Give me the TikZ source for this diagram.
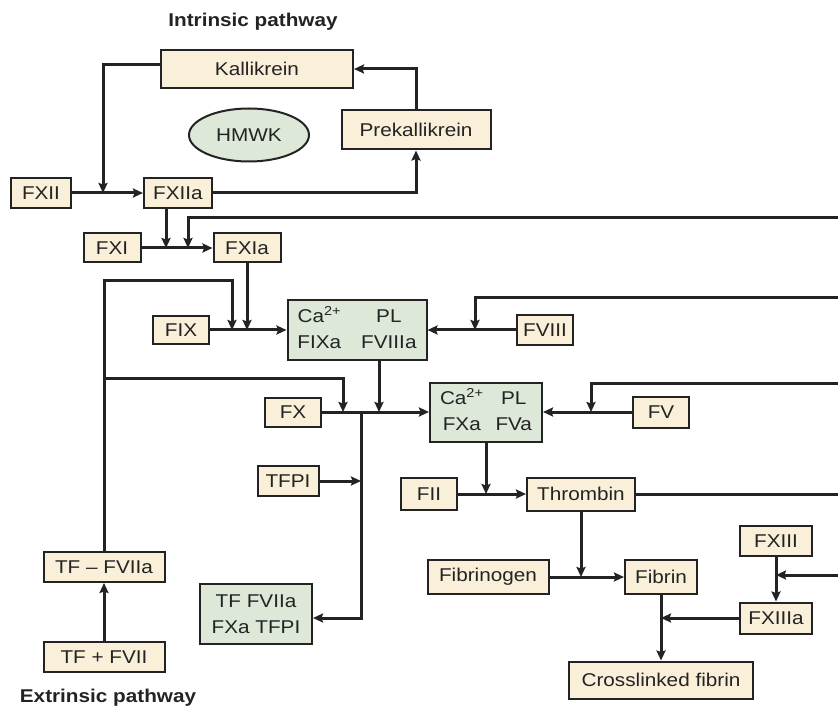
\documentclass[tikz,border=0pt]{standalone}
\usepackage{fontspec}
\setmainfont[FakeStretch=1.12]{Liberation Sans}
\usetikzlibrary{arrows.meta,shapes.geometric}
\definecolor{boxtan}{RGB}{250,240,218}
\definecolor{boxgreen}{RGB}{221,232,217}
\definecolor{edge}{RGB}{35,35,35}
\definecolor{ink}{RGB}{35,35,35}
\tikzset{
  factor/.style={draw=edge, line width=2pt, fill=boxtan, inner sep=0pt, text=ink,
    font=\fontsize{18.5}{26}\selectfont},
  cplx/.style={factor, fill=boxgreen},
  sz/.style 2 args={minimum width=#1pt, minimum height=#2pt},
  heading/.style={text=ink, font=\bfseries\fontsize{18.5}{22}\selectfont},
  link/.style={line width=3pt, draw=ink},
}

\begin{document}
\begin{tikzpicture}[x=1pt, y=-1pt, >={Stealth[length=10pt,width=9pt,inset=1.5pt]}]
  \useasboundingbox (0,0) rectangle (838,711);

  % Intrinsic pathway
  \node[heading] (intr) at (253,22) {Intrinsic pathway};
  \node[factor, sz={192}{38}] (kal) at (257,69) {Kallikrein};
  \node[cplx, ellipse, sz={120}{53}] (hmwk) at (249,135) {HMWK};
  \node[factor, sz={149}{39}] (prek) at (416,130) {Prekallikrein};
  \node[factor, sz={60}{30}] (fxii) at (41,193) {FXII};
  \node[factor, sz={68}{30}] (fxiia) at (178,193) {FXIIa};
  \node[factor, sz={57}{29}] (fxi) at (112,248) {FXI};
  \node[factor, sz={67}{29}] (fxia) at (247,248) {FXIa};

  % Tenase and prothrombinase
  \node[factor, sz={56}{28}] (fix) at (181,330) {FIX};
  \node[cplx, sz={139}{59}] (caix) at (357,330)
    {\begin{tabular}{@{}c@{\hspace{20pt}}c@{}}Ca\textsuperscript{2+} & PL\\ FIXa & FVIIIa\end{tabular}};
  \node[factor, sz={56}{29}] (fviii) at (545,330) {FVIII};
  \node[factor, sz={56}{29}] (fx) at (293,412) {FX};
  \node[cplx, sz={112}{59}] (caxa) at (486,412)
    {\begin{tabular}{@{}c@{\hspace{12pt}}c@{}}Ca\textsuperscript{2+} & PL\\ FXa & FVa\end{tabular}};
  \node[factor, sz={56}{31}] (fv) at (661,412) {FV};
  \node[factor, sz={61}{30}] (tfpi) at (288,481) {TFPI};
  \node[cplx, sz={112}{60}, align=center] (tfcx) at (256,614) {TF FVIIa\\FXa TFPI};

  % Common pathway
  \node[factor, sz={56}{32}] (fii) at (429,494) {FII};
  \node[factor, sz={108}{33}] (thr) at (581,494) {Thrombin};
  \node[factor, sz={121}{34}] (fbg) at (488,577) {Fibrinogen};
  \node[factor, sz={72}{34}] (fib) at (661,577) {Fibrin};
  \node[factor, sz={72}{30}] (fxiii) at (776,541) {FXIII};
  \node[factor, sz={72}{31}] (fxiiia) at (776,618) {FXIIIa};
  \node[factor, sz={184}{37}] (xfib) at (661,680) {Crosslinked fibrin};

  % Extrinsic pathway
  \node[factor, sz={121}{30}] (tffviia) at (104,567) {TF \textendash\ FVIIa};
  \node[factor, sz={121}{30}] (tffvii) at (104,657) {TF + FVII};
  \node[heading] (extr) at (108,698) {Extrinsic pathway};

  % junctions and feedback ends
  \coordinate (m1) at (103,193);
  \coordinate (m2) at (166,248);
  \coordinate (m3) at (188,248);
  \coordinate (m5) at (232,330);
  \coordinate (c1) at (104,281);
  \coordinate (j1) at (104,378);
  \coordinate (m6) at (343,412);
  \coordinate (m7) at (379,412);
  \coordinate (j2) at (361,412);
  \coordinate (m8) at (475,330);
  \coordinate (m9) at (591,412);
  \coordinate (r1) at (838,218);
  \coordinate (r2) at (838,298);
  \coordinate (r3) at (838,383);
  \coordinate (r4) at (838,494);
  \coordinate (r5) at (838,575);

  % Connectors
  \draw[link,->] (fxii) -- (fxiia);
  \draw[link,->] ([yshift=4pt]kal.west) -| (m1);
  \draw[link,->] (fxiia) -| (prek);
  \draw[link,->] (prek) |- (kal);
  \draw[link,->] (fxi) -- (fxia);
  \draw[link,->] (fxiia.south -| m2) -- (m2);
  \draw[link,->] (r1) -| (m3);
  \draw[link,->] (fxia) -- (fxia |- fix);
  \draw[link,->] (fix) -- (caix);
  \draw[link,->] (tffviia) -- (c1) -| (m5);
  \draw[link,->] (j1) -| (m6);
  \draw[link,->] (caix.south -| m7) -- (m7);
  \draw[link,->] (fx) -- (caxa);
  \draw[link,->] (j2) |- ([yshift=-4pt]tfcx.east);
  \draw[link,->] (tfpi) -- (tfpi -| j2);
  \draw[link,->] (fviii) -- (caix);
  \draw[link,->] (r2) -| (m8);
  \draw[link,->] (fv) -- (caxa);
  \draw[link,->] (r3) -| (m9);
  \draw[link,->] (caxa) -- (caxa |- fii);
  \draw[link,->] (fii) -- (thr);
  \draw[link] (thr) -- (r4);
  \draw[link,->] (thr) -- (thr |- fib);
  \draw[link,->] (fbg) -- (fib);
  \draw[link,->] (fxiii) -- (fxiiia);
  \draw[link,->] (r5) -- (r5 -| fxiii);
  \draw[link,->] (fib) -- (xfib);
  \draw[link,->] (fxiiia) -- (fxiiia -| fib);
  \draw[link,->] (tffvii) -- (tffviia);
\end{tikzpicture}
\end{document}
